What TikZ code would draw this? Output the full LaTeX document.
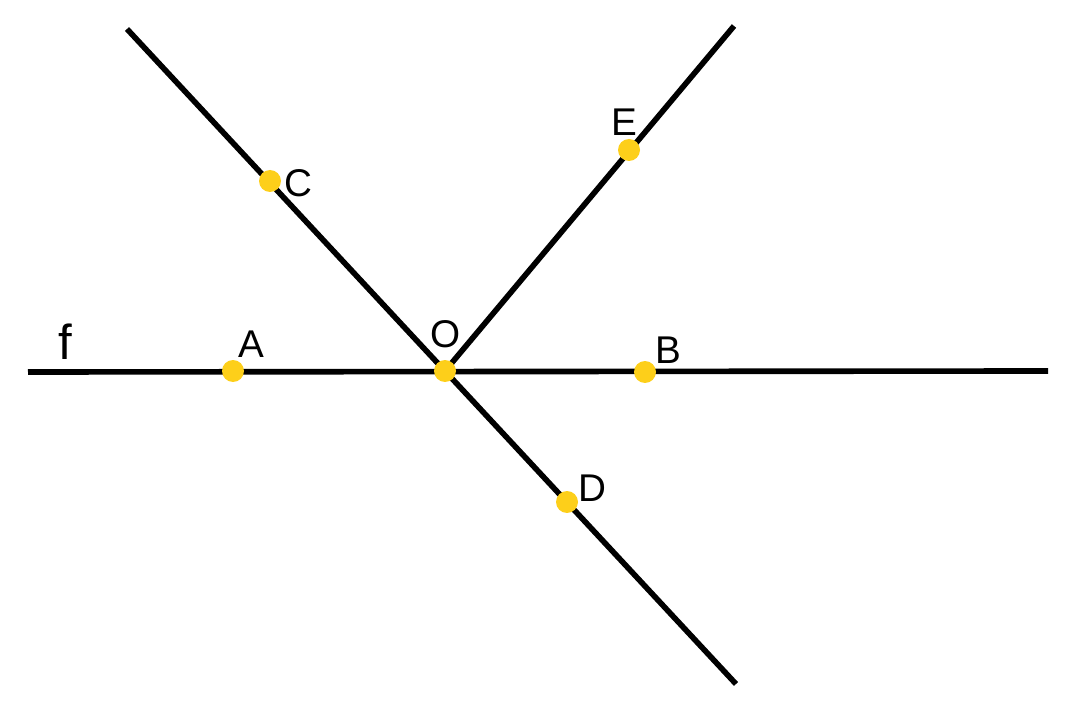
\documentclass[tikz,border=0pt]{standalone}
\usepackage{fontspec}
\setmainfont{Liberation Sans}
\definecolor{dotyellow}{HTML}{FDCF1A}
\begin{document}
\begin{tikzpicture}[x=0.02cm,y=-0.02cm,
  ln/.style={line width=3.2pt,black},
  pt/.style={circle,fill=dotyellow,inner sep=0pt,minimum size=0.44cm},
  lbl/.style={font=\fontsize{22}{26}\selectfont,inner sep=0pt}]
\useasboundingbox (0,0) rectangle (1079,709);
\coordinate (fL) at (28,372);
\coordinate (fR) at (1048,371);
\coordinate (cTop) at (127,29);
\coordinate (dBot) at (736,684);
\coordinate (eTop) at (734,26);
\coordinate (Oc) at (445,371);
\draw[ln] (fL) -- (fR);
\draw[ln] (cTop) -- (dBot);
\draw[ln] (Oc) -- (eTop);
\node[pt] (A) at (233,371) {};
\node[pt] (O) at (445,371) {};
\node[pt] (B) at (645,372) {};
\node[pt] (C) at (270,181) {};
\node[pt] (D) at (567,502) {};
\node[pt] (E) at (629,150) {};
\node[lbl] (lA) at (251,344) {A};
\node[lbl] (lO) at (446,334) {O};
\node[lbl] (lB) at (668,350) {B};
\node[lbl] (lC) at (298,183) {C};
\node[lbl] (lD) at (592,488) {D};
\node[lbl] (lE) at (624,122) {E};
\node[lbl,font=\fontsize{28}{32}\selectfont] (lf) at (65,342) {f};
\end{tikzpicture}
\end{document}
